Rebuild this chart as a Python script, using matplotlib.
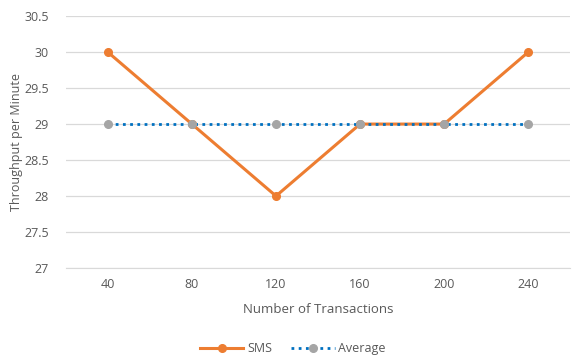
import numpy as np
import matplotlib.pyplot as plt

# data
transactions = ['40', '80', '120', '160', '200', '240']
sms = [30, 29, 28, 29, 29, 30]
average = [29, 29, 29, 29, 29, 29]

plt.rcParams['font.family'] = ['Open Sans', 'DejaVu Sans']
txt = '#595959'

fig = plt.figure(figsize=(5.72, 3.58), dpi=100)
ax = fig.add_axes([0.115, 0.2514, 0.882, 0.7036])

x = np.arange(len(transactions))
ax.plot(x, sms, color='#ED7D31', lw=2.2, marker='o', ms=5.5, label='SMS', zorder=3)
ax.plot(x, average, color='#0070C0', lw=2.0, ls=(0, (1, 1.6)), marker='o', ms=5.5,
        markerfacecolor='#A5A5A5', markeredgecolor='#A5A5A5', label='Average', zorder=4)

ax.set_xlim(-0.5, len(transactions) - 0.5)
ax.set_ylim(27, 30.5)
ax.set_yticks(np.arange(27, 30.51, 0.5))
ax.set_yticklabels(['27', '27.5', '28', '28.5', '29', '29.5', '30', '30.5'])
ax.set_xticks(x, transactions)
ax.grid(axis='y', color='#D9D9D9', lw=0.9)
ax.set_axisbelow(True)
for s in ax.spines.values():
    s.set_visible(False)
ax.spines['bottom'].set_visible(True)
ax.spines['bottom'].set_color('#D9D9D9')
ax.tick_params(length=0, colors=txt, labelsize=9)
ax.tick_params(axis='y', pad=12)
ax.tick_params(axis='x', pad=7)

ax.set_xlabel('Number of Transactions', color=txt, fontsize=9.5, labelpad=9)
ax.set_ylabel('Throughput per Minute', color=txt, fontsize=9, labelpad=1)

leg = ax.legend(loc='upper center', bbox_to_anchor=(0.45, -0.25), ncol=2, frameon=False,
                fontsize=9, handlelength=3.5, columnspacing=1.5, handletextpad=0.3)
for t in leg.get_texts():
    t.set_color(txt)

fig.savefig('out.png', dpi=100)
